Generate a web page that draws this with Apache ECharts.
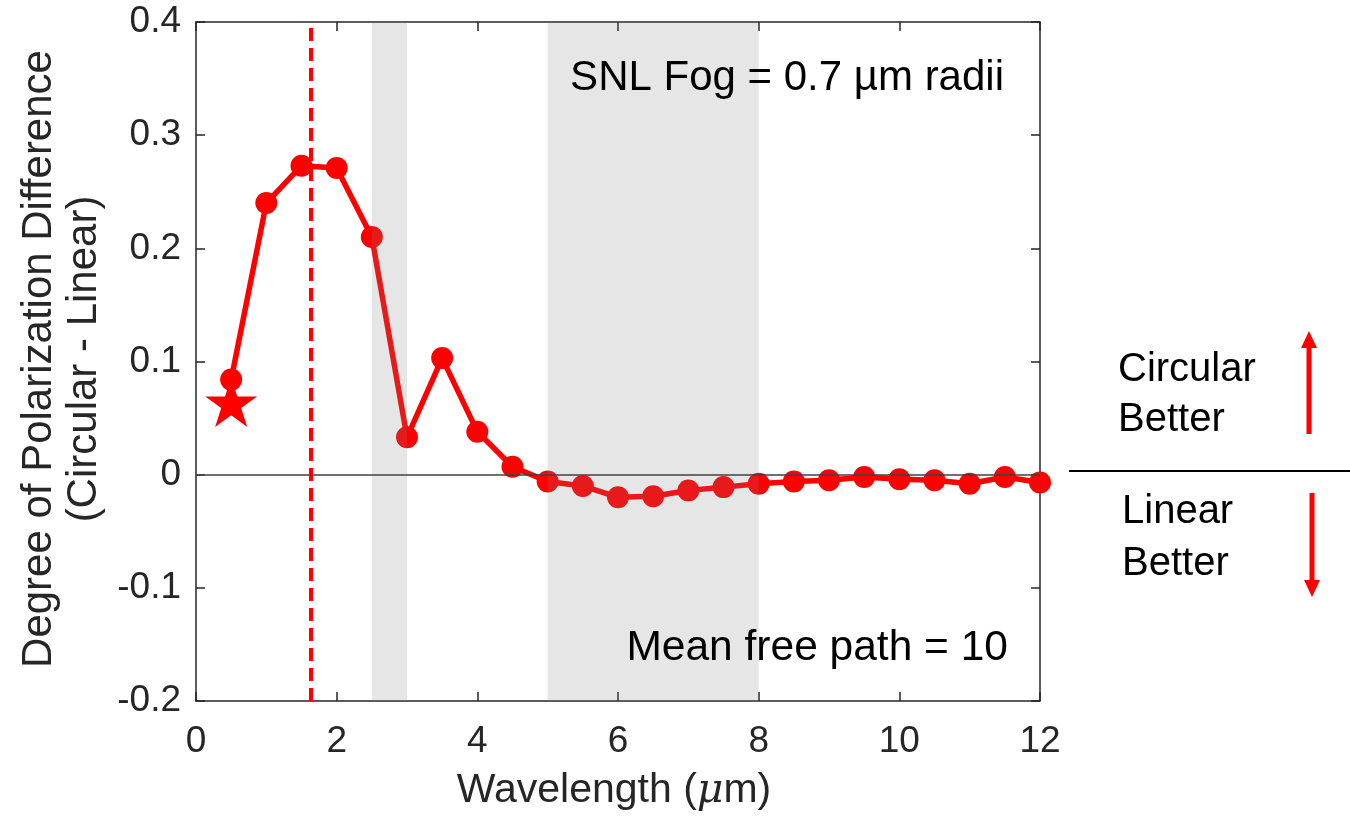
<!DOCTYPE html>
<html>
<head>
<meta charset="utf-8">
<script src="https://cdn.jsdelivr.net/npm/echarts@6/dist/echarts.min.js"></script>
<style>
    html, body { margin: 0; padding: 0; background: #fff; }
    #main { width: 1350px; height: 816px; }
</style>
</head>
<body>
<div id="main"></div>
<script>
// wavelength (um) and degree of polarization difference (circular - linear)
var wavelength = [0.5, 1, 1.5, 2, 2.5, 3, 3.5, 4, 4.5, 5, 5.5, 6, 6.5, 7, 7.5, 8, 8.5, 9, 9.5, 10, 10.5, 11, 11.5, 12];
var dopDiff = [0.084, 0.240, 0.273, 0.271, 0.210, 0.033, 0.103, 0.038, 0.007, -0.006, -0.010, -0.020, -0.019, -0.014, -0.011, -0.008, -0.006, -0.005, -0.002, -0.004, -0.005, -0.008, -0.002, -0.007];
// star marker
var starPoint = [[0.5, 0.064]];
// shaded wavelength bands
var bands = [[2.5, 3], [5, 8]];
// dashed reference wavelength
var refWavelength = 1.63;
// axis ranges
var xRange = [0, 12];
var yRange = [-0.2, 0.4];

var FONT = 'Liberation Sans, Arial, sans-serif';
var AXIS_COLOR = '#262626';

var chart = echarts.init(document.getElementById('main'));

var starPath = 'path://M0,-1 L0.2245,-0.309 L0.951,-0.309 L0.363,0.118 L0.588,0.809 L0,0.382 L-0.588,0.809 L-0.363,0.118 L-0.951,-0.309 L-0.2245,-0.309 Z';

var lineData = wavelength.map(function (w, i) { return [w, dopDiff[i]]; });

function axisCommon(pos, showLabel) {
    return {
        type: 'value',
        position: pos,
        axisLine: { show: true, onZero: false, lineStyle: { color: AXIS_COLOR, width: 1.5 } },
        axisTick: { show: true, inside: true, length: 9, lineStyle: { color: AXIS_COLOR, width: 1.5 } },
        axisLabel: { show: showLabel },
        splitLine: { show: false }
    };
}

var xBottom = axisCommon('bottom', true);
xBottom.min = xRange[0]; xBottom.max = xRange[1]; xBottom.interval = 2;
xBottom.axisLabel = { show: true, fontSize: 37, fontFamily: FONT, color: AXIS_COLOR, margin: 22 };
var xTop = axisCommon('top', false);
xTop.min = xRange[0]; xTop.max = xRange[1]; xTop.interval = 2;

var yLeft = axisCommon('left', true);
yLeft.min = yRange[0]; yLeft.max = yRange[1]; yLeft.interval = 0.1;
yLeft.axisLabel = {
    show: true, fontSize: 37, fontFamily: FONT, color: AXIS_COLOR, margin: 15,
    formatter: function (v) {
        var r = Math.round(v * 10) / 10;
        return r === 0 ? '0' : r.toFixed(1);
    }
};
var yRight = axisCommon('right', false);
yRight.min = yRange[0]; yRight.max = yRange[1]; yRight.interval = 0.1;

chart.setOption({
    animation: false,
    backgroundColor: '#fff',
    grid: { left: 196, right: 310, top: 22, bottom: 115 },
    xAxis: [xBottom, xTop],
    yAxis: [yLeft, yRight],
    series: [
        {
            name: 'DOP difference',
            type: 'line',
            data: lineData,
            z: 2,
            symbol: 'circle',
            symbolSize: 22,
            itemStyle: { color: '#ff0000', opacity: 1 },
            lineStyle: { color: '#ff0000', width: 5.5 },
            markLine: {
                silent: true,
                symbol: 'none',
                label: { show: false },
                data: [
                    { yAxis: 0, lineStyle: { color: '#404040', width: 1.5, type: 'solid' } },
                    { xAxis: refWavelength, lineStyle: { color: '#ff0000', width: 4, type: [13, 7] } }
                ]
            }
        },
        {
            name: 'star',
            type: 'scatter',
            data: starPoint,
            z: 2,
            symbol: starPath,
            symbolKeepAspect: true,
            symbolSize: 52,
            itemStyle: { color: '#ff0000', opacity: 1 }
        },
        {
            // translucent bands drawn over the curve, like the original patch
            name: 'bands',
            type: 'custom',
            z: 4,
            silent: true,
            data: bands,
            encode: { x: [0, 1] },
            renderItem: function (params, api) {
                var p0 = api.coord([api.value(0), yRange[1]]);
                var p1 = api.coord([api.value(1), yRange[0]]);
                return {
                    type: 'rect',
                    shape: { x: p0[0], y: p0[1], width: p1[0] - p0[0], height: p1[1] - p0[1] },
                    style: { fill: 'rgba(128,128,128,0.2)' }
                };
            }
        }
    ],
    graphic: [
        // y axis title
        {
            type: 'text', x: 62, y: 359, rotation: Math.PI / 2, z: 100,
            style: {
                text: 'Degree of Polarization Difference\n(Circular - Linear)',
                fontSize: 42, fontFamily: FONT, fill: AXIS_COLOR, lineHeight: 45,
                align: 'center', verticalAlign: 'middle'
            }
        },
        // x axis title
        {
            type: 'text', x: 614, y: 791, z: 100,
            style: {
                text: '{n|Wavelength (}{m|\u03bc}{n|m)}',
                align: 'center', verticalAlign: 'middle',
                rich: {
                    n: { fontSize: 41, fontFamily: FONT, fill: AXIS_COLOR, color: AXIS_COLOR },
                    m: { fontSize: 41, fontFamily: 'DejaVu Serif, serif', fontStyle: 'italic', fill: AXIS_COLOR, color: AXIS_COLOR }
                }
            }
        },
        {
            type: 'text', x: 1004, y: 78, z: 100,
            style: { text: 'SNL Fog = 0.7 \u00b5m radii', fontSize: 42, fontFamily: FONT, fill: '#000', align: 'right', verticalAlign: 'middle' }
        },
        {
            type: 'text', x: 1008, y: 648, z: 100,
            style: { text: 'Mean free path = 10', fontSize: 42.5, fontFamily: FONT, fill: '#000', align: 'right', verticalAlign: 'middle' }
        },
        // right side notes
        {
            type: 'text', x: 1118, y: 370, z: 100,
            style: { text: 'Circular', fontSize: 40, fontFamily: FONT, fill: '#000', align: 'left', verticalAlign: 'middle' }
        },
        {
            type: 'text', x: 1118, y: 420, z: 100,
            style: { text: 'Better', fontSize: 40, fontFamily: FONT, fill: '#000', align: 'left', verticalAlign: 'middle' }
        },
        {
            type: 'text', x: 1122, y: 512, z: 100,
            style: { text: 'Linear', fontSize: 40, fontFamily: FONT, fill: '#000', align: 'left', verticalAlign: 'middle' }
        },
        {
            type: 'text', x: 1122, y: 564, z: 100,
            style: { text: 'Better', fontSize: 40, fontFamily: FONT, fill: '#000', align: 'left', verticalAlign: 'middle' }
        },
        {
            type: 'line', z: 100,
            shape: { x1: 1069, y1: 471, x2: 1350, y2: 471 },
            style: { stroke: '#000', lineWidth: 2 }
        },
        // up arrow
        {
            type: 'line', z: 100,
            shape: { x1: 1309, y1: 434, x2: 1309, y2: 345 },
            style: { stroke: '#ff0000', lineWidth: 5 }
        },
        {
            type: 'polygon', z: 100,
            shape: { points: [[1301, 348], [1317, 348], [1309, 331]] },
            style: { fill: '#ff0000' }
        },
        // down arrow
        {
            type: 'line', z: 100,
            shape: { x1: 1312, y1: 493, x2: 1312, y2: 583 },
            style: { stroke: '#ff0000', lineWidth: 5 }
        },
        {
            type: 'polygon', z: 100,
            shape: { points: [[1304, 580], [1320, 580], [1312, 597]] },
            style: { fill: '#ff0000' }
        }
    ]
});

window.onresize = function () {
    chart.resize();
};
</script>
</body>
</html>
